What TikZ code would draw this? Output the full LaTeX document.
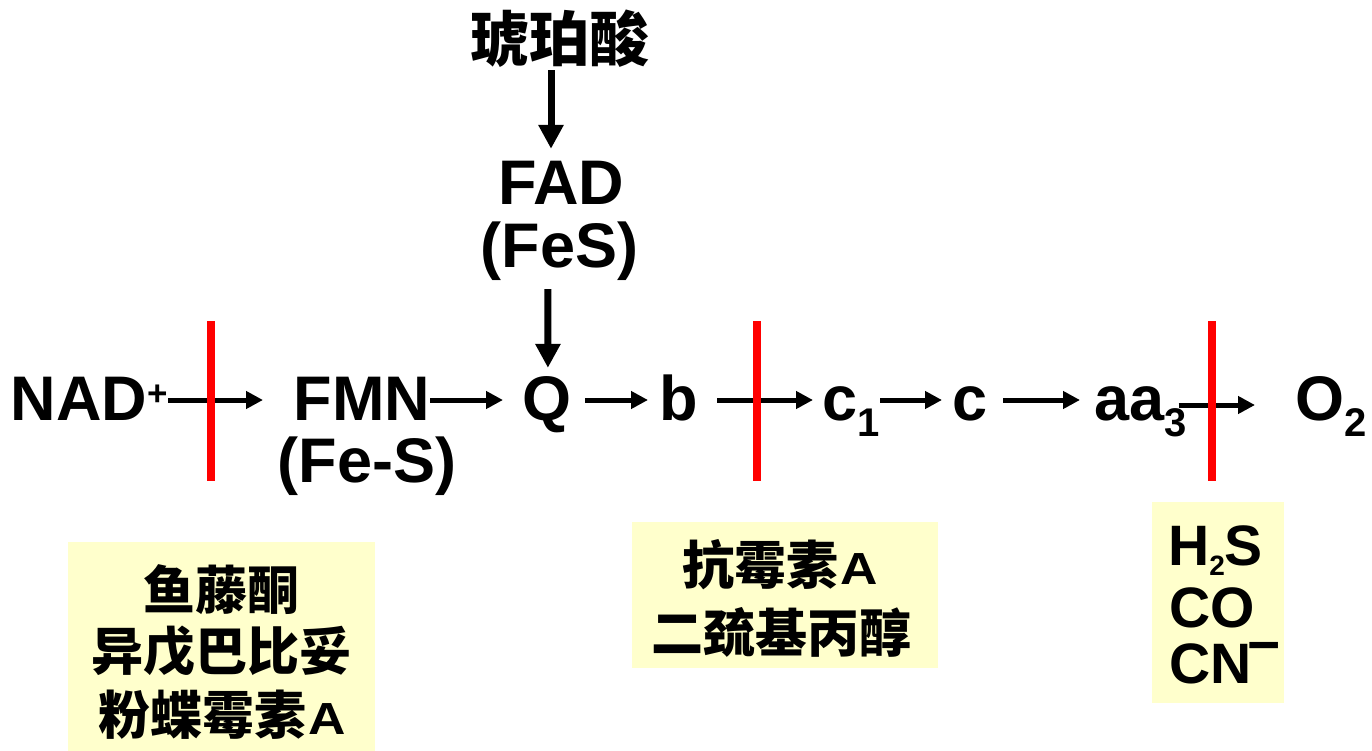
\documentclass[tikz,border=0pt]{standalone}
\usepackage{fontspec}
\usepackage{graphicx}
\setmainfont{Liberation Sans}
\newfontfamily\cjk{Noto Sans CJK SC}
\usetikzlibrary{arrows.meta}
\definecolor{boxyellow}{RGB}{255,255,204}
\newcommand\mysub[1]{\raisebox{-16pt}{\fontsize{40pt}{40pt}\selectfont #1}}
\newcommand\bigA{{\rmfamily\bfseries\fontsize{45pt}{45pt}\selectfont\kern2pt\scalebox{1.15}[1]{A}}}
\tikzset{
  lbl/.style={inner sep=0pt, font=\fontsize{63pt}{63pt}\selectfont\bfseries,
              text height=44pt, text depth=4pt, anchor=base west},
  harr/.style={line width=5pt, -{Triangle[length=17pt,width=17pt]}},
  varr/.style={line width=7pt, -{Triangle[length=24pt,width=24pt]}},
  block/.style={draw=red, line width=8pt},
  box/.style={fill=boxyellow, inner sep=0pt, anchor=north west},
  cjkline/.style={inner sep=0pt, font=\fontsize{52pt}{52pt}\selectfont\cjk\bfseries,
              text height=43pt, text depth=4pt, anchor=center},
  chem/.style={inner sep=0pt, font=\fontsize{57pt}{57pt}\selectfont\bfseries, anchor=base west,
              text height=41pt, text depth=0pt}
}
\begin{document}
\begin{tikzpicture}[x=1pt,y=-1pt]
\fill[white] (0,0) rectangle (1372,751);
\path[use as bounding box] (0,0) rectangle (1372,751);

% boxes
\node[box, minimum width=307pt, minimum height=209pt] (box1) at (68,542) {};
\node[box, minimum width=306pt, minimum height=146pt] (box2) at (632,522) {};
\node[box, minimum width=132pt, minimum height=201pt] (box3) at (1152,502) {};

% main chain
\node[lbl] (nad) at (10.4,420) {NAD\raisebox{15pt}{\fontsize{35pt}{35pt}\selectfont +}};
\node[lbl] (fmn) at (293.4,420) {FMN};
\node[lbl, anchor=base] (fmnfes) at (367,482) {(Fe-S)};
\node[lbl] (q) at (522.2,420) {Q};
\node[lbl] (b) at (658.8,420) {b};
\node[lbl] (c1) at (822.2,420) {c\mysub{1}};
\node[lbl] (c) at (952.2,420) {c};
\node[lbl] (aa3) at (1094.5,420) {aa\mysub{3}};
\node[lbl] (o2) at (1295.2,420) {O\mysub{2}};

% vertical branch
\node[inner sep=0pt, font=\fontsize{60pt}{60pt}\selectfont\cjk\bfseries, text depth=0pt, anchor=base] (suc) at (559,62) {琥珀酸};
\node[lbl, anchor=base, text depth=0pt] (fad) at (561,205) {FAD};
\node[lbl, anchor=base, text depth=0pt] (fes) at (559.5,267) {(FeS)};

% arrows
\draw[harr, shorten <=0.7pt, shorten >=30.4pt] (nad) -- (fmn);
\draw[harr, shorten <=0.1pt, shorten >=19.2pt] (fmn) -- (q);
\draw[harr, shorten <=13.8pt, shorten >=10.8pt] (q) -- (b);
\draw[harr, shorten <=19.7pt, shorten >=9.2pt] (b) -- (c1);
\draw[harr, shorten <=0.6pt, shorten >=10.2pt] (c1) -- (c);
\draw[harr, shorten <=15.8pt, shorten >=14.5pt] (c) -- (aa3);
\draw[harr, shorten <=-8.7pt, shorten >=40.2pt] ([yshift=-5pt]aa3.east) -- ([yshift=-5pt]o2.west);
\draw[varr, shorten <=8pt, shorten >=12pt] ([xshift=-8pt]suc.south) -- ([xshift=-10pt]fad.north);
\draw[varr, shorten <=22pt, shorten >=8pt] ([xshift=-11.5pt]fes.south) -- ([xshift=1pt]q.north);

% inhibition bars
\draw[block] (211,321) -- (211,481);
\draw[block] (757,321) -- (757,481);
\draw[block] (1212,321) -- (1212,481);

% inhibitors
\node[cjkline] (r1) at (221.5,590) {鱼藤酮};
\node[cjkline] (r2) at (221,651) {异戊巴比妥};
\node[cjkline] (r3) at (222.5,715) {粉蝶霉素\bigA};
\node[cjkline] (s1) at (780,565) {抗霉素\bigA};
\node[cjkline] (s2) at (781,633) {二巯基丙醇};
\node[chem] (h2s) at (1168,565) {H\raisebox{-10pt}{\fontsize{28pt}{28pt}\selectfont 2}S};
\node[chem] (co) at (1169,627) {CO};
\node[chem] (cn) at (1169,683) {CN\kern-4pt\smash{\raisebox{19pt}{−}}};
\end{tikzpicture}
\end{document}
